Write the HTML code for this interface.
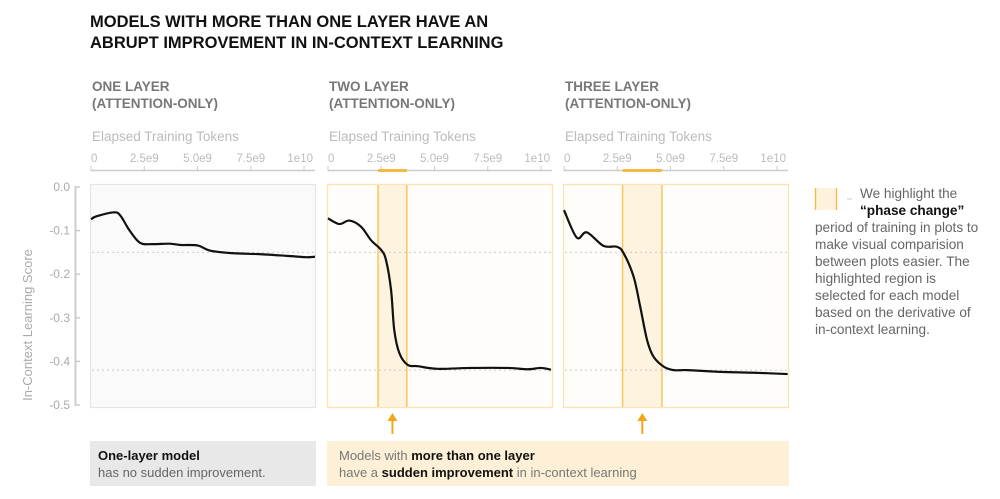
<!DOCTYPE html>
<html><head><meta charset="utf-8">
<style>
html,body{margin:0;padding:0;background:#fff;}
body{width:1000px;height:494px;overflow:hidden;font-family:"Liberation Sans",sans-serif;}
svg text{font-family:"Liberation Sans",sans-serif;}
</style></head>
<body>
<svg id="chart" width="1000" height="494" viewBox="0 0 1000 494" xmlns="http://www.w3.org/2000/svg">
<text x="90" y="27" font-size="16.5" font-weight="bold" fill="#111">MODELS WITH MORE THAN ONE LAYER HAVE AN</text>
<text x="90" y="48" font-size="16.5" font-weight="bold" fill="#111">ABRUPT IMPROVEMENT IN IN-CONTEXT LEARNING</text>
<g id="panels"></g>
<g id="yaxis"></g>
<text transform="translate(32,325) rotate(-90)" text-anchor="middle" font-size="13" fill="#aaa">In-Context Learning Score</text>
<rect x="815" y="188" width="22" height="22" fill="#fdf2dc"/>
<line x1="815.5" y1="188" x2="815.5" y2="210" stroke="#f5b942" stroke-width="1.3"/>
<line x1="836.5" y1="188" x2="836.5" y2="210" stroke="#f5b942" stroke-width="1.3"/>
<line x1="847" y1="199" x2="852" y2="199" stroke="#ccc" stroke-width="1"/>
<g font-size="13.6" fill="#666">
<text x="860" y="198">We highlight the</text>
<text x="860" y="215" font-weight="bold" fill="#111">“phase change”</text>
<text x="815" y="232">period of training in plots to</text>
<text x="815" y="249">make visual comparision</text>
<text x="815" y="266">between plots easier. The</text>
<text x="815" y="283">highlighted region is</text>
<text x="815" y="300">selected for each model</text>
<text x="815" y="317">based on the derivative of</text>
<text x="815" y="334">in-context learning.</text>
</g>
<rect x="90" y="441" width="226" height="45" fill="#e8e8e8"/>
<text x="98" y="460" font-size="13" font-weight="bold" fill="#111">One-layer model</text>
<text x="98" y="477" font-size="13" fill="#666">has no sudden improvement.</text>
<rect x="327" y="441" width="462" height="45" fill="#fdf0d6"/>
<text x="339" y="460" font-size="13" fill="#777">Models with <tspan font-weight="bold" fill="#111">more than one layer</tspan></text>
<text x="339" y="477" font-size="13" fill="#777">have a <tspan font-weight="bold" fill="#111">sudden improvement</tspan> in in-context learning</text>
</svg>
<script>
const yTicks=[0,-0.1,-0.2,-0.3,-0.4,-0.5];
const yTickLabels=["0.0","-0.1","-0.2","-0.3","-0.4","-0.5"];
const xTicks=[0,2.5,5,7.5,10];
const xTickLabels=["0","2.5e9","5.0e9","7.5e9","1e10"];
const refLines=[-0.15,-0.42];
const panelTitles=[["ONE LAYER","(ATTENTION-ONLY)"],["TWO LAYER","(ATTENTION-ONLY)"],["THREE LAYER","(ATTENTION-ONLY)"]];
const bands=[null,[2.35,3.7],[2.75,4.6]];
const xs1=[0,0.27,1.1,1.4,1.8,2.3,2.9,3.7,4.2,5.0,5.6,6.7,7.9,9.2,10.1,10.8];
const ys1=[-0.074,-0.067,-0.058,-0.067,-0.099,-0.128,-0.131,-0.13,-0.133,-0.134,-0.146,-0.152,-0.154,-0.158,-0.161,-0.16];
const xs2=[0,0.53,1.0,1.55,2.02,2.49,2.72,2.96,3.11,3.35,3.74,4.21,5.15,6.71,8.44,9.38,10.0,10.47];
const ys2=[-0.072,-0.085,-0.077,-0.091,-0.122,-0.144,-0.167,-0.236,-0.328,-0.381,-0.408,-0.411,-0.417,-0.415,-0.415,-0.418,-0.415,-0.419];
const xs3=[0,0.6,1.07,1.85,2.48,2.8,3.27,3.58,3.9,4.2,4.68,5.15,5.8,7.36,8.93,10.5];
const ys3=[-0.053,-0.116,-0.104,-0.135,-0.137,-0.152,-0.206,-0.275,-0.351,-0.389,-0.412,-0.42,-0.42,-0.424,-0.426,-0.429];
const seriesX=[xs1,xs2,xs3], seriesY=[ys1,ys2,ys3];

const NS="http://www.w3.org/2000/svg";
const panelLeft=[90,327,563], panelW=225, panelTop=184, panelBottom=407;
function yScale(v){return 187+(-v)*436;}
function xScale(p,v){return panelLeft[p]+1+v*21.3;}
function mk(tag,attrs,parent){const e=document.createElementNS(NS,tag);for(const k in attrs)e.setAttribute(k,attrs[k]);parent.appendChild(e);return e;}
const G=document.getElementById('panels');
const YA=document.getElementById('yaxis');
mk('line',{x1:75.5,y1:186,x2:75.5,y2:406,stroke:'#ccc','stroke-width':2},YA);
yTicks.forEach((t,i)=>{
  const y=yScale(t);
  mk('line',{x1:75,y1:y,x2:80,y2:y,stroke:'#ccc','stroke-width':1.5},YA);
  const tx=mk('text',{x:70,y:y+4,'text-anchor':'end','font-size':12,fill:'#aaa'},YA);
  tx.textContent=yTickLabels[i];
  
  
});
function smoothPath(pts){
  let d=`M${pts[0][0]},${pts[0][1]}`;
  for(let i=0;i<pts.length-1;i++){
    const p0=pts[i-1]||pts[i],p1=pts[i],p2=pts[i+1],p3=pts[i+2]||p2;
    const c1=[p1[0]+(p2[0]-p0[0])/6,p1[1]+(p2[1]-p0[1])/6];
    const c2=[p2[0]-(p3[0]-p1[0])/6,p2[1]-(p3[1]-p1[1])/6];
    d+=` C${c1[0]},${c1[1]} ${c2[0]},${c2[1]} ${p2[0]},${p2[1]}`;
  }
  return d;
}
for(let p=0;p<3;p++){
  const g=mk('g',{},G);
  
  
  const L=panelLeft[p];
  const t1=mk('text',{x:L+2,y:91,'font-size':13.5,'font-weight':'bold',fill:'#777'},g);t1.textContent=panelTitles[p][0];
  
  
  const t2=mk('text',{x:L+2,y:108,'font-size':13.5,'font-weight':'bold',fill:'#777'},g);t2.textContent=panelTitles[p][1];
  const xt=mk('text',{x:L+2,y:141,'font-size':13.5,fill:'#bbb'},g);xt.textContent='Elapsed Training Tokens';
  
  
  mk('line',{x1:L+1,y1:170.5,x2:L+225,y2:170.5,stroke:'#ccc','stroke-width':1.5},g);
  xTicks.forEach((t,i)=>{
    const x=xScale(p,t);
    mk('line',{x1:x,y1:166,x2:x,y2:171,stroke:'#ccc','stroke-width':1},g);
    const tl=mk('text',{x:x,y:162,'text-anchor':i==0?'start':(i==xTicks.length-1?'end':'middle'),'font-size':11.5,fill:'#bbb'},g);
    if(i==xTicks.length-1)tl.setAttribute('x',L+223);
    tl.textContent=xTickLabels[i];
    
    
  });
  const hl=bands[p];
  mk('rect',{x:L+0.5,y:panelTop+0.5,width:panelW,height:panelBottom-panelTop,fill:hl?'#fffdfa':'#fafafa',stroke:hl?'#fbe3b3':'#e6e6e6','stroke-width':1.3},g);
  if(hl){
    const x0=xScale(p,hl[0]),x1=xScale(p,hl[1]);
    const b=mk('rect',{x:x0,y:panelTop+1,width:x1-x0,height:panelBottom-panelTop-1,fill:'#fdf3df'},g);
    
    
    mk('line',{x1:x0,y1:panelTop+1,x2:x0,y2:panelBottom,stroke:'#f7c460','stroke-width':1.5},g);
    mk('line',{x1:x1,y1:panelTop+1,x2:x1,y2:panelBottom,stroke:'#f7c460','stroke-width':1.5},g);
    mk('line',{x1:x0,y1:170.5,x2:x1,y2:170.5,stroke:'#f5b942','stroke-width':3},g);
    const ax=(x0+x1)/2;
    mk('line',{x1:ax,y1:418,x2:ax,y2:434,stroke:'#f2a71b','stroke-width':2},g);
    const ar=mk('path',{d:`M${ax-5},${421} L${ax},${413} L${ax+5},${421} Z`,fill:'#f2a71b'},g);
    
    
  }
  refLines.forEach(v=>{
    mk('line',{x1:L+2,y1:yScale(v),x2:L+224,y2:yScale(v),stroke:'#ccc','stroke-width':1,'stroke-dasharray':'2,3'},g);
  });
  const pts=seriesX[p].map((x,i)=>[Math.min(xScale(p,x),L+225),yScale(seriesY[p][i])]);
  const ln=mk('path',{d:smoothPath(pts),fill:'none',stroke:'#111','stroke-width':2.2,'stroke-linejoin':'round'},g);
  
  
}
</script>
</body></html>
